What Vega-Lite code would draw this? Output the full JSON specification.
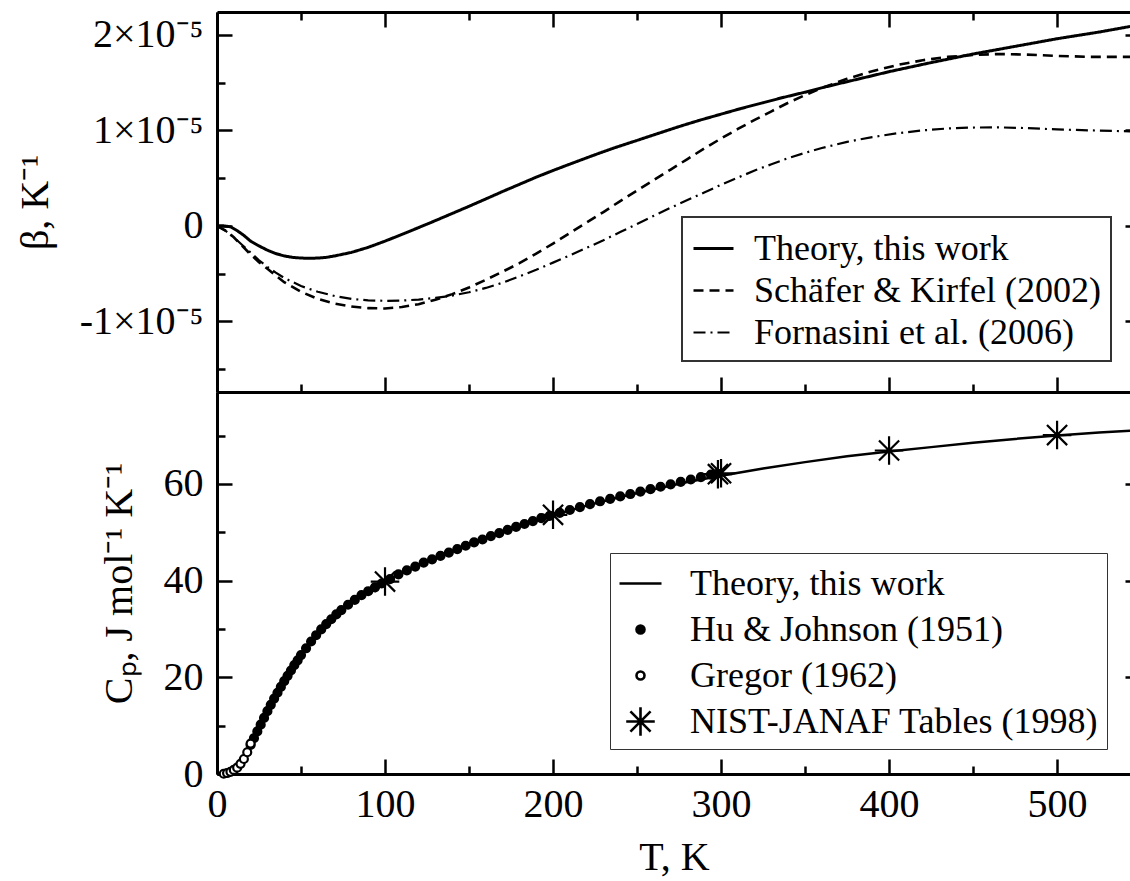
{
  "$schema": "https://vega.github.io/schema/vega-lite/v6.json",
  "background": "white",
  "padding": {"left": 15, "top": 10, "right": 0, "bottom": 0},
  "config": {
    "font": "Liberation Serif, Times New Roman, Times, serif",
    "view": {"stroke": null},
    "axis": {"grid": false, "domainColor": "black", "domainWidth": 3, "tickColor": "black", "tickWidth": 2.5, "labelFont": "Liberation Serif, Times New Roman, Times, serif", "labelFontSize": 40, "labelColor": "black", "titleFont": "Liberation Serif, Times New Roman, Times, serif", "titleFontSize": 40, "titleFontWeight": "normal", "titleColor": "black", "labelFlush": false, "labelOverlap": false},
    "legend": {"labelFont": "Liberation Serif, Times New Roman, Times, serif", "labelFontSize": 36, "labelColor": "black", "strokeColor": "#333", "fillColor": "white", "labelLimit": 0, "symbolStrokeColor": "black"}
  },
  "datasets": {
    "beta": [
      {"T":0,"b":0,"s":"Theory, this work"},{"T":4,"b":0,"s":"Theory, this work"},{"T":8,"b":-0.01e-5,"s":"Theory, this work"},{"T":12,"b":-0.05e-5,"s":"Theory, this work"},{"T":16,"b":-0.10e-5,"s":"Theory, this work"},{"T":20,"b":-0.16e-5,"s":"Theory, this work"},{"T":25,"b":-0.21e-5,"s":"Theory, this work"},{"T":30,"b":-0.255e-5,"s":"Theory, this work"},{"T":35,"b":-0.29e-5,"s":"Theory, this work"},{"T":40,"b":-0.315e-5,"s":"Theory, this work"},{"T":45,"b":-0.33e-5,"s":"Theory, this work"},{"T":50,"b":-0.337e-5,"s":"Theory, this work"},{"T":55,"b":-0.34e-5,"s":"Theory, this work"},{"T":60,"b":-0.337e-5,"s":"Theory, this work"},{"T":65,"b":-0.33e-5,"s":"Theory, this work"},{"T":70,"b":-0.315e-5,"s":"Theory, this work"},{"T":80,"b":-0.278e-5,"s":"Theory, this work"},{"T":90,"b":-0.225e-5,"s":"Theory, this work"},{"T":100,"b":-0.16e-5,"s":"Theory, this work"},{"T":110,"b":-0.09e-5,"s":"Theory, this work"},{"T":120,"b":-0.018e-5,"s":"Theory, this work"},{"T":130,"b":0.055e-5,"s":"Theory, this work"},{"T":140,"b":0.13e-5,"s":"Theory, this work"},{"T":150,"b":0.205e-5,"s":"Theory, this work"},{"T":160,"b":0.282e-5,"s":"Theory, this work"},{"T":170,"b":0.36e-5,"s":"Theory, this work"},{"T":180,"b":0.435e-5,"s":"Theory, this work"},{"T":190,"b":0.51e-5,"s":"Theory, this work"},{"T":200,"b":0.58e-5,"s":"Theory, this work"},{"T":212,"b":0.66e-5,"s":"Theory, this work"},{"T":225,"b":0.745e-5,"s":"Theory, this work"},{"T":237,"b":0.82e-5,"s":"Theory, this work"},{"T":250,"b":0.895e-5,"s":"Theory, this work"},{"T":262,"b":0.965e-5,"s":"Theory, this work"},{"T":275,"b":1.04e-5,"s":"Theory, this work"},{"T":287,"b":1.105e-5,"s":"Theory, this work"},{"T":300,"b":1.17e-5,"s":"Theory, this work"},{"T":312,"b":1.23e-5,"s":"Theory, this work"},{"T":325,"b":1.29e-5,"s":"Theory, this work"},{"T":337,"b":1.345e-5,"s":"Theory, this work"},{"T":350,"b":1.40e-5,"s":"Theory, this work"},{"T":362,"b":1.455e-5,"s":"Theory, this work"},{"T":375,"b":1.51e-5,"s":"Theory, this work"},{"T":387,"b":1.56e-5,"s":"Theory, this work"},{"T":400,"b":1.615e-5,"s":"Theory, this work"},{"T":425,"b":1.71e-5,"s":"Theory, this work"},{"T":450,"b":1.80e-5,"s":"Theory, this work"},{"T":475,"b":1.88e-5,"s":"Theory, this work"},{"T":500,"b":1.96e-5,"s":"Theory, this work"},{"T":525,"b":2.03e-5,"s":"Theory, this work"},{"T":544,"b":2.09e-5,"s":"Theory, this work"},
      {"T":0,"b":0,"s":"Schäfer & Kirfel (2002)"},{"T":5,"b":-0.05e-5,"s":"Schäfer & Kirfel (2002)"},{"T":10,"b":-0.12e-5,"s":"Schäfer & Kirfel (2002)"},{"T":15,"b":-0.21e-5,"s":"Schäfer & Kirfel (2002)"},{"T":20,"b":-0.30e-5,"s":"Schäfer & Kirfel (2002)"},{"T":25,"b":-0.38e-5,"s":"Schäfer & Kirfel (2002)"},{"T":30,"b":-0.45e-5,"s":"Schäfer & Kirfel (2002)"},{"T":35,"b":-0.52e-5,"s":"Schäfer & Kirfel (2002)"},{"T":40,"b":-0.59e-5,"s":"Schäfer & Kirfel (2002)"},{"T":50,"b":-0.69e-5,"s":"Schäfer & Kirfel (2002)"},{"T":60,"b":-0.765e-5,"s":"Schäfer & Kirfel (2002)"},{"T":70,"b":-0.815e-5,"s":"Schäfer & Kirfel (2002)"},{"T":80,"b":-0.845e-5,"s":"Schäfer & Kirfel (2002)"},{"T":90,"b":-0.862e-5,"s":"Schäfer & Kirfel (2002)"},{"T":100,"b":-0.865e-5,"s":"Schäfer & Kirfel (2002)"},{"T":110,"b":-0.85e-5,"s":"Schäfer & Kirfel (2002)"},{"T":120,"b":-0.82e-5,"s":"Schäfer & Kirfel (2002)"},{"T":130,"b":-0.775e-5,"s":"Schäfer & Kirfel (2002)"},{"T":140,"b":-0.715e-5,"s":"Schäfer & Kirfel (2002)"},{"T":150,"b":-0.645e-5,"s":"Schäfer & Kirfel (2002)"},{"T":160,"b":-0.565e-5,"s":"Schäfer & Kirfel (2002)"},{"T":170,"b":-0.48e-5,"s":"Schäfer & Kirfel (2002)"},{"T":180,"b":-0.39e-5,"s":"Schäfer & Kirfel (2002)"},{"T":190,"b":-0.29e-5,"s":"Schäfer & Kirfel (2002)"},{"T":200,"b":-0.185e-5,"s":"Schäfer & Kirfel (2002)"},{"T":210,"b":-0.075e-5,"s":"Schäfer & Kirfel (2002)"},{"T":220,"b":0.035e-5,"s":"Schäfer & Kirfel (2002)"},{"T":230,"b":0.145e-5,"s":"Schäfer & Kirfel (2002)"},{"T":240,"b":0.26e-5,"s":"Schäfer & Kirfel (2002)"},{"T":250,"b":0.37e-5,"s":"Schäfer & Kirfel (2002)"},{"T":260,"b":0.48e-5,"s":"Schäfer & Kirfel (2002)"},{"T":270,"b":0.59e-5,"s":"Schäfer & Kirfel (2002)"},{"T":280,"b":0.70e-5,"s":"Schäfer & Kirfel (2002)"},{"T":290,"b":0.81e-5,"s":"Schäfer & Kirfel (2002)"},{"T":300,"b":0.915e-5,"s":"Schäfer & Kirfel (2002)"},{"T":310,"b":1.015e-5,"s":"Schäfer & Kirfel (2002)"},{"T":320,"b":1.11e-5,"s":"Schäfer & Kirfel (2002)"},{"T":330,"b":1.20e-5,"s":"Schäfer & Kirfel (2002)"},{"T":340,"b":1.29e-5,"s":"Schäfer & Kirfel (2002)"},{"T":350,"b":1.37e-5,"s":"Schäfer & Kirfel (2002)"},{"T":360,"b":1.445e-5,"s":"Schäfer & Kirfel (2002)"},{"T":375,"b":1.54e-5,"s":"Schäfer & Kirfel (2002)"},{"T":390,"b":1.62e-5,"s":"Schäfer & Kirfel (2002)"},{"T":405,"b":1.685e-5,"s":"Schäfer & Kirfel (2002)"},{"T":420,"b":1.735e-5,"s":"Schäfer & Kirfel (2002)"},{"T":435,"b":1.77e-5,"s":"Schäfer & Kirfel (2002)"},{"T":450,"b":1.79e-5,"s":"Schäfer & Kirfel (2002)"},{"T":465,"b":1.80e-5,"s":"Schäfer & Kirfel (2002)"},{"T":480,"b":1.795e-5,"s":"Schäfer & Kirfel (2002)"},{"T":500,"b":1.78e-5,"s":"Schäfer & Kirfel (2002)"},{"T":520,"b":1.77e-5,"s":"Schäfer & Kirfel (2002)"},{"T":544,"b":1.77e-5,"s":"Schäfer & Kirfel (2002)"},
      {"T":0,"b":0,"s":"Fornasini et al. (2006)"},{"T":5,"b":-0.05e-5,"s":"Fornasini et al. (2006)"},{"T":10,"b":-0.12e-5,"s":"Fornasini et al. (2006)"},{"T":15,"b":-0.20e-5,"s":"Fornasini et al. (2006)"},{"T":20,"b":-0.28e-5,"s":"Fornasini et al. (2006)"},{"T":25,"b":-0.36e-5,"s":"Fornasini et al. (2006)"},{"T":30,"b":-0.43e-5,"s":"Fornasini et al. (2006)"},{"T":35,"b":-0.49e-5,"s":"Fornasini et al. (2006)"},{"T":40,"b":-0.545e-5,"s":"Fornasini et al. (2006)"},{"T":50,"b":-0.63e-5,"s":"Fornasini et al. (2006)"},{"T":60,"b":-0.69e-5,"s":"Fornasini et al. (2006)"},{"T":70,"b":-0.735e-5,"s":"Fornasini et al. (2006)"},{"T":80,"b":-0.765e-5,"s":"Fornasini et al. (2006)"},{"T":90,"b":-0.78e-5,"s":"Fornasini et al. (2006)"},{"T":100,"b":-0.785e-5,"s":"Fornasini et al. (2006)"},{"T":110,"b":-0.782e-5,"s":"Fornasini et al. (2006)"},{"T":120,"b":-0.772e-5,"s":"Fornasini et al. (2006)"},{"T":130,"b":-0.755e-5,"s":"Fornasini et al. (2006)"},{"T":140,"b":-0.73e-5,"s":"Fornasini et al. (2006)"},{"T":150,"b":-0.695e-5,"s":"Fornasini et al. (2006)"},{"T":160,"b":-0.65e-5,"s":"Fornasini et al. (2006)"},{"T":170,"b":-0.595e-5,"s":"Fornasini et al. (2006)"},{"T":180,"b":-0.53e-5,"s":"Fornasini et al. (2006)"},{"T":190,"b":-0.46e-5,"s":"Fornasini et al. (2006)"},{"T":200,"b":-0.385e-5,"s":"Fornasini et al. (2006)"},{"T":210,"b":-0.31e-5,"s":"Fornasini et al. (2006)"},{"T":220,"b":-0.23e-5,"s":"Fornasini et al. (2006)"},{"T":230,"b":-0.15e-5,"s":"Fornasini et al. (2006)"},{"T":240,"b":-0.065e-5,"s":"Fornasini et al. (2006)"},{"T":250,"b":0.02e-5,"s":"Fornasini et al. (2006)"},{"T":260,"b":0.105e-5,"s":"Fornasini et al. (2006)"},{"T":270,"b":0.19e-5,"s":"Fornasini et al. (2006)"},{"T":280,"b":0.27e-5,"s":"Fornasini et al. (2006)"},{"T":290,"b":0.35e-5,"s":"Fornasini et al. (2006)"},{"T":300,"b":0.43e-5,"s":"Fornasini et al. (2006)"},{"T":310,"b":0.505e-5,"s":"Fornasini et al. (2006)"},{"T":320,"b":0.58e-5,"s":"Fornasini et al. (2006)"},{"T":330,"b":0.645e-5,"s":"Fornasini et al. (2006)"},{"T":340,"b":0.71e-5,"s":"Fornasini et al. (2006)"},{"T":350,"b":0.765e-5,"s":"Fornasini et al. (2006)"},{"T":360,"b":0.815e-5,"s":"Fornasini et al. (2006)"},{"T":375,"b":0.88e-5,"s":"Fornasini et al. (2006)"},{"T":390,"b":0.93e-5,"s":"Fornasini et al. (2006)"},{"T":405,"b":0.97e-5,"s":"Fornasini et al. (2006)"},{"T":420,"b":1.0e-5,"s":"Fornasini et al. (2006)"},{"T":435,"b":1.02e-5,"s":"Fornasini et al. (2006)"},{"T":450,"b":1.03e-5,"s":"Fornasini et al. (2006)"},{"T":465,"b":1.032e-5,"s":"Fornasini et al. (2006)"},{"T":480,"b":1.025e-5,"s":"Fornasini et al. (2006)"},{"T":500,"b":1.01e-5,"s":"Fornasini et al. (2006)"},{"T":520,"b":1.0e-5,"s":"Fornasini et al. (2006)"},{"T":544,"b":0.99e-5,"s":"Fornasini et al. (2006)"}
    ],
    "cpth": [
      {"T":0,"cp":0},{"T":4,"cp":0.05},{"T":6,"cp":0.2},{"T":8,"cp":0.45},{"T":10,"cp":0.85},{"T":12,"cp":1.3},{"T":14,"cp":2.2},{"T":16,"cp":3.2},{"T":18,"cp":4.4},{"T":20,"cp":5.9},{"T":22,"cp":7.3},{"T":25,"cp":9.5},{"T":30,"cp":13.0},{"T":35,"cp":16.2},{"T":40,"cp":19.2},{"T":45,"cp":22.0},{"T":50,"cp":24.6},{"T":55,"cp":27.0},{"T":60,"cp":29.1},{"T":65,"cp":31.0},{"T":70,"cp":32.7},{"T":75,"cp":34.2},{"T":80,"cp":35.5},{"T":85,"cp":36.7},{"T":90,"cp":37.8},{"T":95,"cp":38.8},{"T":100,"cp":39.8},{"T":110,"cp":41.6},{"T":120,"cp":43.2},{"T":130,"cp":44.7},{"T":140,"cp":46.1},{"T":150,"cp":47.5},{"T":160,"cp":48.8},{"T":170,"cp":50.0},{"T":180,"cp":51.2},{"T":190,"cp":52.4},{"T":200,"cp":53.5},{"T":220,"cp":55.5},{"T":240,"cp":57.3},{"T":260,"cp":58.9},{"T":280,"cp":60.4},{"T":300,"cp":61.7},{"T":325,"cp":63.2},{"T":350,"cp":64.5},{"T":375,"cp":65.7},{"T":400,"cp":66.7},{"T":425,"cp":67.6},{"T":450,"cp":68.5},{"T":475,"cp":69.3},{"T":500,"cp":70.0},{"T":525,"cp":70.6},{"T":544,"cp":71.0}
    ],
    "cpexp": [
      {"T":20,"cp":6.0,"src":"Hu & Johnson (1951)"},{"T":22,"cp":7.4,"src":"Hu & Johnson (1951)"},{"T":24,"cp":8.8,"src":"Hu & Johnson (1951)"},{"T":26,"cp":10.2,"src":"Hu & Johnson (1951)"},{"T":28,"cp":11.6,"src":"Hu & Johnson (1951)"},{"T":30,"cp":13.0,"src":"Hu & Johnson (1951)"},{"T":32,"cp":14.3,"src":"Hu & Johnson (1951)"},{"T":34,"cp":15.6,"src":"Hu & Johnson (1951)"},{"T":36,"cp":16.8,"src":"Hu & Johnson (1951)"},{"T":38,"cp":18.0,"src":"Hu & Johnson (1951)"},{"T":40,"cp":19.2,"src":"Hu & Johnson (1951)"},{"T":42,"cp":20.3,"src":"Hu & Johnson (1951)"},{"T":44,"cp":21.4,"src":"Hu & Johnson (1951)"},{"T":46,"cp":22.5,"src":"Hu & Johnson (1951)"},{"T":48,"cp":23.5,"src":"Hu & Johnson (1951)"},{"T":50,"cp":24.6,"src":"Hu & Johnson (1951)"},{"T":53,"cp":26.0,"src":"Hu & Johnson (1951)"},{"T":56,"cp":27.4,"src":"Hu & Johnson (1951)"},{"T":59,"cp":28.7,"src":"Hu & Johnson (1951)"},{"T":62,"cp":29.9,"src":"Hu & Johnson (1951)"},{"T":65,"cp":31.0,"src":"Hu & Johnson (1951)"},{"T":68,"cp":32.0,"src":"Hu & Johnson (1951)"},{"T":71,"cp":33.0,"src":"Hu & Johnson (1951)"},{"T":74,"cp":33.9,"src":"Hu & Johnson (1951)"},{"T":78,"cp":35.0,"src":"Hu & Johnson (1951)"},{"T":82,"cp":36.0,"src":"Hu & Johnson (1951)"},{"T":86,"cp":37.0,"src":"Hu & Johnson (1951)"},{"T":90,"cp":37.8,"src":"Hu & Johnson (1951)"},{"T":94,"cp":38.6,"src":"Hu & Johnson (1951)"},{"T":98,"cp":39.4,"src":"Hu & Johnson (1951)"},{"T":103,"cp":40.3,"src":"Hu & Johnson (1951)"},{"T":108,"cp":41.3,"src":"Hu & Johnson (1951)"},{"T":113,"cp":42.1,"src":"Hu & Johnson (1951)"},{"T":118,"cp":42.9,"src":"Hu & Johnson (1951)"},{"T":123,"cp":43.7,"src":"Hu & Johnson (1951)"},{"T":128,"cp":44.4,"src":"Hu & Johnson (1951)"},{"T":133,"cp":45.1,"src":"Hu & Johnson (1951)"},{"T":138,"cp":45.8,"src":"Hu & Johnson (1951)"},{"T":143,"cp":46.5,"src":"Hu & Johnson (1951)"},{"T":148,"cp":47.2,"src":"Hu & Johnson (1951)"},{"T":153,"cp":47.9,"src":"Hu & Johnson (1951)"},{"T":158,"cp":48.5,"src":"Hu & Johnson (1951)"},{"T":163,"cp":49.2,"src":"Hu & Johnson (1951)"},{"T":168,"cp":49.8,"src":"Hu & Johnson (1951)"},{"T":173,"cp":50.5,"src":"Hu & Johnson (1951)"},{"T":178,"cp":51.1,"src":"Hu & Johnson (1951)"},{"T":183,"cp":51.7,"src":"Hu & Johnson (1951)"},{"T":188,"cp":52.3,"src":"Hu & Johnson (1951)"},{"T":193,"cp":52.9,"src":"Hu & Johnson (1951)"},{"T":198,"cp":53.4,"src":"Hu & Johnson (1951)"},{"T":204,"cp":54.0,"src":"Hu & Johnson (1951)"},{"T":210,"cp":54.6,"src":"Hu & Johnson (1951)"},{"T":216,"cp":55.2,"src":"Hu & Johnson (1951)"},{"T":222,"cp":55.8,"src":"Hu & Johnson (1951)"},{"T":228,"cp":56.4,"src":"Hu & Johnson (1951)"},{"T":234,"cp":56.9,"src":"Hu & Johnson (1951)"},{"T":240,"cp":57.4,"src":"Hu & Johnson (1951)"},{"T":246,"cp":57.9,"src":"Hu & Johnson (1951)"},{"T":252,"cp":58.4,"src":"Hu & Johnson (1951)"},{"T":258,"cp":58.9,"src":"Hu & Johnson (1951)"},{"T":264,"cp":59.4,"src":"Hu & Johnson (1951)"},{"T":270,"cp":59.9,"src":"Hu & Johnson (1951)"},{"T":276,"cp":60.4,"src":"Hu & Johnson (1951)"},{"T":282,"cp":60.9,"src":"Hu & Johnson (1951)"},{"T":288,"cp":61.4,"src":"Hu & Johnson (1951)"},{"T":294,"cp":61.9,"src":"Hu & Johnson (1951)"},{"T":298,"cp":62.1,"src":"Hu & Johnson (1951)"},
      {"T":4,"cp":0.05,"src":"Gregor (1962)"},{"T":6,"cp":0.2,"src":"Gregor (1962)"},{"T":8,"cp":0.45,"src":"Gregor (1962)"},{"T":10,"cp":0.85,"src":"Gregor (1962)"},{"T":12,"cp":1.3,"src":"Gregor (1962)"},{"T":14,"cp":2.1,"src":"Gregor (1962)"},{"T":16,"cp":3.1,"src":"Gregor (1962)"},{"T":18,"cp":4.5,"src":"Gregor (1962)"},{"T":20,"cp":6.3,"src":"Gregor (1962)"},
      {"T":100,"cp":39.8,"src":"NIST-JANAF Tables (1998)"},{"T":200,"cp":53.6,"src":"NIST-JANAF Tables (1998)"},{"T":298.15,"cp":62.0,"src":"NIST-JANAF Tables (1998)"},{"T":300,"cp":62.2,"src":"NIST-JANAF Tables (1998)"},{"T":400,"cp":66.9,"src":"NIST-JANAF Tables (1998)"},{"T":500,"cp":70.1,"src":"NIST-JANAF Tables (1998)"}
    ]
  },
  "spacing": 0,
  "bounds": "flush",
  "vconcat": [
    {
      "width": 914,
      "height": 380,
      "data": {"name": "beta"},
      "layer": [
        {
          "transform": [{"filter": "datum.s === 'Theory, this work'"}],
          "mark": {"type": "line", "color": "black"},
          "encoding": {
            "x": {"field": "T", "type": "quantitative", "scale": {"domain": [0, 544], "nice": false, "zero": false},
              "axis": {"orient": "bottom", "values": [0,50,100,150,200,250,300,350,400,450,500], "labels": false, "title": null,
                "tickSize": {"condition": {"test": "datum.value % 100 !== 0", "value": -8}, "value": -15}}},
            "y": {"field": "b", "type": "quantitative", "scale": {"domain": [-1.74e-5, 2.24e-5], "nice": false, "zero": false},
              "axis": {"orient": "left", "values": [-1.5e-5,-1e-5,-0.5e-5,0,0.5e-5,1e-5,1.5e-5,2e-5],
                "labelExpr": "abs(datum.value*1e5 - round(datum.value*1e5)) > 0.01 ? '' : (round(datum.value*1e5) === 0 ? '0' : round(datum.value*1e5) + '×10⁻⁵')",
                "labelPadding": 29, "title": "β, K⁻¹", "titlePadding": 24,
                "tickSize": {"condition": {"test": "abs(datum.value*1e5 - round(datum.value*1e5)) > 0.01", "value": -8}, "value": -15}}},
            "strokeDash": {"field": "s", "type": "nominal",
              "scale": {"domain": ["Theory, this work", "Schäfer & Kirfel (2002)", "Fornasini et al. (2006)"], "range": [[1,0],[10,6],[12,5,2,5]]},
              "legend": {"title": null, "orient": "none", "legendX": 465, "legendY": 205, "symbolSize": 1600, "labelOffset": 19, "rowPadding": 2, "padding": 10, "symbolType": "stroke", "encode": {"legend": {"update": {"strokeWidth": {"value": 2}}}}}},
            "strokeWidth": {"field": "s", "type": "nominal",
              "scale": {"domain": ["Theory, this work", "Schäfer & Kirfel (2002)", "Fornasini et al. (2006)"], "range": [3, 2.2, 2.2]},
              "legend": {"title": null, "orient": "none", "legendX": 465, "legendY": 205, "symbolSize": 1600, "labelOffset": 19, "rowPadding": 2, "padding": 10, "symbolType": "stroke", "encode": {"legend": {"update": {"strokeWidth": {"value": 2}}}}}}
          }
        },
        {
          "transform": [{"filter": "datum.s !== 'Theory, this work'"}],
          "mark": {"type": "line", "color": "black"},
          "encoding": {
            "x": {"field": "T", "type": "quantitative", "scale": {"domain": [0, 544], "nice": false, "zero": false},
              "axis": {"orient": "top", "values": [0,50,100,150,200,250,300,350,400,450,500], "labels": false, "title": null,
                "tickSize": {"condition": {"test": "datum.value % 100 !== 0", "value": -8}, "value": -15}}},
            "y": {"field": "b", "type": "quantitative", "scale": {"domain": [-1.74e-5, 2.24e-5], "nice": false, "zero": false},
              "axis": {"orient": "right", "values": [-1e-5,0,1e-5,2e-5], "labels": false, "title": null, "domain": false, "tickSize": -6}},
            "strokeDash": {"field": "s", "type": "nominal",
              "scale": {"domain": ["Theory, this work", "Schäfer & Kirfel (2002)", "Fornasini et al. (2006)"], "range": [[1,0],[10,6],[12,5,2,5]]},
              "legend": {"title": null, "orient": "none", "legendX": 465, "legendY": 205, "symbolSize": 1600, "labelOffset": 19, "rowPadding": 2, "padding": 10, "symbolType": "stroke", "encode": {"legend": {"update": {"strokeWidth": {"value": 2}}}}}},
            "strokeWidth": {"field": "s", "type": "nominal",
              "scale": {"domain": ["Theory, this work", "Schäfer & Kirfel (2002)", "Fornasini et al. (2006)"], "range": [3, 2.2, 2.2]},
              "legend": {"title": null, "orient": "none", "legendX": 465, "legendY": 205, "symbolSize": 1600, "labelOffset": 19, "rowPadding": 2, "padding": 10, "symbolType": "stroke", "encode": {"legend": {"update": {"strokeWidth": {"value": 2}}}}}}
          }
        }
      ],
      "resolve": {"axis": {"x": "independent", "y": "independent"}}
    },
    {
      "width": 914,
      "height": 382,
      "layer": [
        {
          "data": {"name": "cpth"},
          "mark": {"type": "line", "color": "black", "strokeWidth": 2.5},
          "encoding": {
            "x": {"field": "T", "type": "quantitative", "scale": {"domain": [0, 544], "nice": false, "zero": false},
              "axis": {"orient": "bottom", "values": [0,50,100,150,200,250,300,350,400,450,500],
                "labelExpr": "datum.value % 100 === 0 ? datum.label : ''", "labelPadding": 25,
                "title": "T, K", "titlePadding": 6,
                "tickSize": {"condition": {"test": "datum.value % 100 !== 0", "value": -8}, "value": -15}}},
            "y": {"field": "cp", "type": "quantitative", "scale": {"domain": [0, 79], "nice": false, "zero": false},
              "axis": {"orient": "left", "values": [0,10,20,30,40,50,60,70],
                "labelExpr": "datum.value % 20 === 0 ? datum.label : ''", "labelPadding": 29,
                "title": "Cₚ, J mol⁻¹ K⁻¹", "titlePadding": 24,
                "tickSize": {"condition": {"test": "datum.value % 20 !== 0", "value": -8}, "value": -15}}}
          }
        },
        {
          "data": {"name": "cpexp"},
          "mark": {"type": "point", "strokeWidth": 2.2, "opacity": 1, "size": 1764},
          "encoding": {
            "x": {"field": "T", "type": "quantitative", "scale": {"domain": [0, 544], "nice": false, "zero": false},
              "axis": {"orient": "top", "ticks": false, "labels": false, "title": null}},
            "y": {"field": "cp", "type": "quantitative", "scale": {"domain": [0, 79], "nice": false, "zero": false},
              "axis": {"orient": "right", "values": [0,20,40,60], "labels": false, "title": null, "domain": false, "tickSize": -6}},
            "shape": {"field": "src", "type": "nominal",
              "scale": {"domain": ["Theory, this work", "Hu & Johnson (1951)", "Gregor (1962)", "NIST-JANAF Tables (1998)"],
                "range": ["M-1,0L1,0", "M0.19,0A0.19,0.19 0 1,1 -0.19,0A0.19,0.19 0 1,1 0.19,0Z", "M0.19,0A0.19,0.19 0 1,1 -0.19,0A0.19,0.19 0 1,1 0.19,0Z", "M0,-0.68L0,0.68M-0.68,0L0.68,0M-0.48,-0.48L0.48,0.48M-0.48,0.48L0.48,-0.48"]},
              "legend": {"title": null, "orient": "none", "legendX": 393, "legendY": 541, "labelOffset": 27, "rowPadding": 5, "padding": 8, "symbolSize": 1764, "symbolStrokeWidth": 2.6,
                "encode": {"legend": {"update": {"strokeWidth": {"value": 2}}}}}},
            "fill": {"field": "src", "type": "nominal",
              "scale": {"domain": ["Theory, this work", "Hu & Johnson (1951)", "Gregor (1962)", "NIST-JANAF Tables (1998)"],
                "range": ["transparent", "black", "white", "transparent"]},
              "legend": {"title": null, "orient": "none", "legendX": 393, "legendY": 541, "labelOffset": 27, "rowPadding": 5, "padding": 8, "symbolSize": 1764, "symbolStrokeWidth": 2.6,
                "encode": {"legend": {"update": {"strokeWidth": {"value": 2}}}}}},
            "stroke": {"field": "src", "type": "nominal",
              "scale": {"domain": ["Theory, this work", "Hu & Johnson (1951)", "Gregor (1962)", "NIST-JANAF Tables (1998)"],
                "range": ["black", "black", "black", "black"]},
              "legend": {"title": null, "orient": "none", "legendX": 393, "legendY": 541, "labelOffset": 27, "rowPadding": 5, "padding": 8, "symbolSize": 1764, "symbolStrokeWidth": 2.6,
                "encode": {"legend": {"update": {"strokeWidth": {"value": 2}}}}}}
          }
        }
      ],
      "resolve": {"axis": {"x": "independent", "y": "independent"}}
    }
  ]
}
